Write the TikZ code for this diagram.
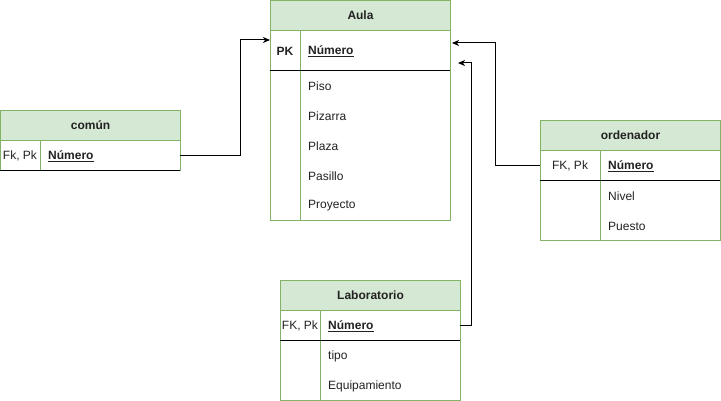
\documentclass[tikz,border=0pt]{standalone}
\usepackage{fontspec}
\setmainfont{Liberation Sans}
\usetikzlibrary{arrows.meta}
\definecolor{hdr}{HTML}{D5E8D4}
\definecolor{bdr}{HTML}{82B366}
\definecolor{txt}{HTML}{222222}
\begin{document}
\begin{tikzpicture}[x=1pt,y=-1pt,
  tablebox/.style={draw=bdr, fill=white, line width=1pt, minimum width=180pt, anchor=north west, inner sep=0pt},
  hdrbox/.style={draw=bdr, fill=hdr, line width=1pt, minimum width=180pt, minimum height=30pt, anchor=north west, inner sep=0pt, text=txt, font=\bfseries\fontsize{12}{14}\selectfont},
  rowbox/.style={minimum width=180pt, anchor=north west, inner sep=0pt},
  keyline/.style={draw=black, line width=1pt},
  divline/.style={draw=bdr, line width=1pt},
  attr/.style={anchor=west, inner sep=0pt, yshift=-1pt, text=txt, font=\fontsize{12}{14}\selectfont},
  keytxt/.style={anchor=center, inner sep=0pt, yshift=-1pt, text=txt, font=\bfseries\fontsize{12}{14}\selectfont},
  fktxt/.style={anchor=center, inner sep=0pt, yshift=-1pt, text=txt, font=\fontsize{12}{14}\selectfont},
  keyname/.style={anchor=west, inner sep=0pt, yshift=-1pt, text=txt, font=\bfseries\fontsize{12}{14}\selectfont},
  conn/.style={draw=black, line width=1pt, -{Stealth[length=7pt,width=6pt,inset=2pt]}}
]
\useasboundingbox (0,0) rectangle (721,401);

% ---------- Aula ----------
\node[tablebox, minimum height=220pt] (aula) at (270,0) {};
\node[hdrbox] (aula-h) at (270,0) {Aula};
\node[rowbox, minimum height=40pt] (aula-k) at (270,30) {};
\draw[divline] (300,30) -- (300,220);
\draw[keyline] (aula-k.south west) -- (aula-k.south east);
\node[keytxt] (aula-pk) at (285,50) {PK};
\node[keyname] (aula-num) at (308,50) {\underline{Número}};
\node[attr] (aula-a1) at (308,85) {Piso};
\node[attr] (aula-a2) at (308,115) {Pizarra};
\node[attr] (aula-a3) at (308,145) {Plaza};
\node[attr] (aula-a4) at (308,175) {Pasillo};
\node[attr] (aula-a5) at (308,205) {Proyecto};
\coordinate (aula-in1) at (270,40);
\coordinate (aula-in2) at (452,43);
\coordinate (aula-in3) at (458,63);

% ---------- común ----------
\node[tablebox, minimum height=60pt] (comun) at (0,110) {};
\node[hdrbox] (comun-h) at (0,110) {común};
\node[rowbox, minimum height=30pt] (comun-k) at (0,140) {};
\draw[divline] (40,140) -- (40,170);
\draw[keyline] (comun-k.south west) -- (comun-k.south east);
\node[fktxt] (comun-pk) at (20,155) {Fk, Pk};
\node[keyname] (comun-num) at (48,155) {\underline{Número}};

% ---------- ordenador ----------
\node[tablebox, minimum height=120pt] (ord) at (540,120) {};
\node[hdrbox] (ord-h) at (540,120) {ordenador};
\node[rowbox, minimum height=30pt] (ord-k) at (540,150) {};
\draw[divline] (600,150) -- (600,240);
\draw[keyline] (ord-k.south west) -- (ord-k.south east);
\node[fktxt] (ord-pk) at (570,165) {FK, Pk};
\node[keyname] (ord-num) at (608,165) {\underline{Número}};
\node[attr] (ord-a1) at (608,195) {Nivel};
\node[attr] (ord-a2) at (608,225) {Puesto};

% ---------- Laboratorio ----------
\node[tablebox, minimum height=120pt] (lab) at (280,280) {};
\node[hdrbox] (lab-h) at (280,280) {Laboratorio};
\node[rowbox, minimum height=30pt] (lab-k) at (280,310) {};
\draw[divline] (320,310) -- (320,400);
\draw[keyline] (lab-k.south west) -- (lab-k.south east);
\node[fktxt] (lab-pk) at (300,325) {FK, Pk};
\node[keyname] (lab-num) at (328,325) {\underline{Número}};
\node[attr] (lab-a1) at (328,355) {tipo};
\node[attr] (lab-a2) at (328,385) {Equipamiento};

% ---------- connectors ----------
\draw[conn] (comun-k.east) -- ++(60,0) |- (aula-in1);
\draw[conn] (ord-k.west) -- ++(-45,0) |- (aula-in2);
\draw[conn] (lab-k.east) -- ++(11,0) |- (aula-in3);
\end{tikzpicture}
\end{document}
